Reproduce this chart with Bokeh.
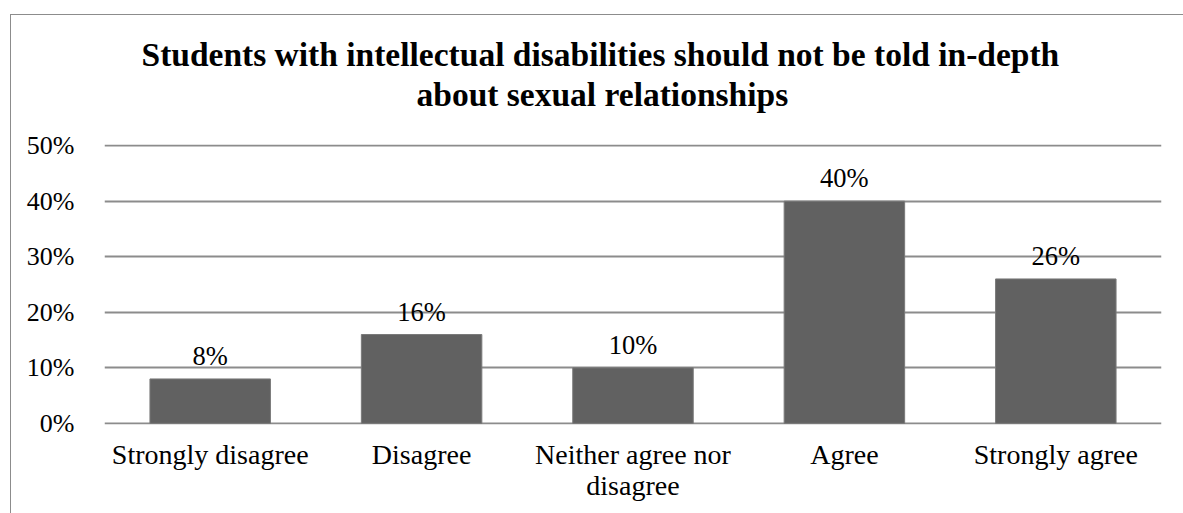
from bokeh.plotting import figure
from bokeh.models import (ColumnDataSource, Range1d, NumeralTickFormatter, Title, LabelSet,
                          FixedTicker, LinearAxis)
from bokeh.embed import file_html
from bokeh.resources import INLINE

categories = ["Strongly disagree", "Disagree", "Neither agree nor disagree", "Agree", "Strongly agree"]
values = [0.08, 0.16, 0.10, 0.40, 0.26]
value_labels = ["8%", "16%", "10%", "40%", "26%"]
y_ticks = [0, 0.1, 0.2, 0.3, 0.4, 0.5]
title_lines = ["Students with intellectual disabilities should not be told in-depth",
               "about sexual relationships"]
# category labels as they wrap in the reference (first line / second line)
label_line1 = ["Strongly disagree", "Disagree", "Neither agree nor", "Agree", "Strongly agree"]
label_line2 = ["", "", "disagree", "", ""]

FONT = "'Liberation Serif', 'Times New Roman', serif"
BAR = "#616161"
GRID = "#8c8c8c"

xpos = list(range(len(categories)))
src = ColumnDataSource(dict(x=xpos, cat=categories, val=values, lab=value_labels))

p = figure(x_range=Range1d(-0.5, len(categories) - 0.5), y_range=Range1d(-0.002, 0.502),
           width=1173, height=499, output_backend="svg", toolbar_location=None,
           x_axis_type=None,
           min_border_left=93, min_border_right=23, min_border_top=129, min_border_bottom=90)
p.margin = (14, 0, 0, 10)
p.styles = {"border-top": "1px solid #8c8c8c", "border-left": "1px solid #8c8c8c",
            "box-sizing": "border-box"}

p.vbar(x="x", top="val", width=0.57, source=src, fill_color=BAR, line_color="#7a7a7a", line_width=1)

labels = LabelSet(x="x", y="val", text="lab", source=src, text_align="center",
                  text_baseline="bottom", y_offset=8, text_font=FONT, text_font_size="26.5px",
                  text_color="#000000")
p.add_layout(labels)

p.add_layout(Title(text=title_lines[1], align="left", text_font=FONT, text_font_size="33.5px",
                   text_font_style="bold", text_color="#000000", standoff=63, offset=312), "above")
p.add_layout(Title(text=title_lines[0], align="left", text_font=FONT, text_font_size="33.5px",
                   text_font_style="bold", text_color="#000000", standoff=-60, offset=37), "above")
p.title.visible = False

p.yaxis.ticker = FixedTicker(ticks=y_ticks)
p.yaxis.formatter = NumeralTickFormatter(format="0%")
p.yaxis.axis_line_color = None
p.yaxis.major_tick_line_color = None
p.yaxis.minor_tick_line_color = None
p.yaxis.major_label_text_font = FONT
p.yaxis.major_label_text_font_size = "26px"
p.yaxis.major_label_text_color = "#000000"
p.yaxis.major_label_standoff = 24

ax1 = LinearAxis(ticker=FixedTicker(ticks=xpos),
                 major_label_overrides={i: t for i, t in zip(xpos, label_line1)})
ax2 = LinearAxis(ticker=FixedTicker(ticks=xpos),
                 major_label_overrides={i: t for i, t in zip(xpos, label_line2)})
p.add_layout(ax1, "below")
p.add_layout(ax2, "below")

for ax in (ax1, ax2):
    ax.axis_line_color = None
    ax.major_tick_line_color = None
    ax.minor_tick_line_color = None
    ax.major_tick_out = 0
    ax.major_tick_in = 0
    ax.major_label_text_font = FONT
    ax.major_label_text_font_size = "28px"
    ax.major_label_text_color = "#000000"
ax1.major_label_standoff = 14
ax2.major_label_standoff = -3

p.xgrid.grid_line_color = None
p.ygrid.grid_line_color = GRID
p.ygrid.grid_line_width = 2
p.outline_line_color = None
p.background_fill_color = "white"
p.border_fill_color = "white"

open("out.html", "w").write(file_html(p, INLINE))
